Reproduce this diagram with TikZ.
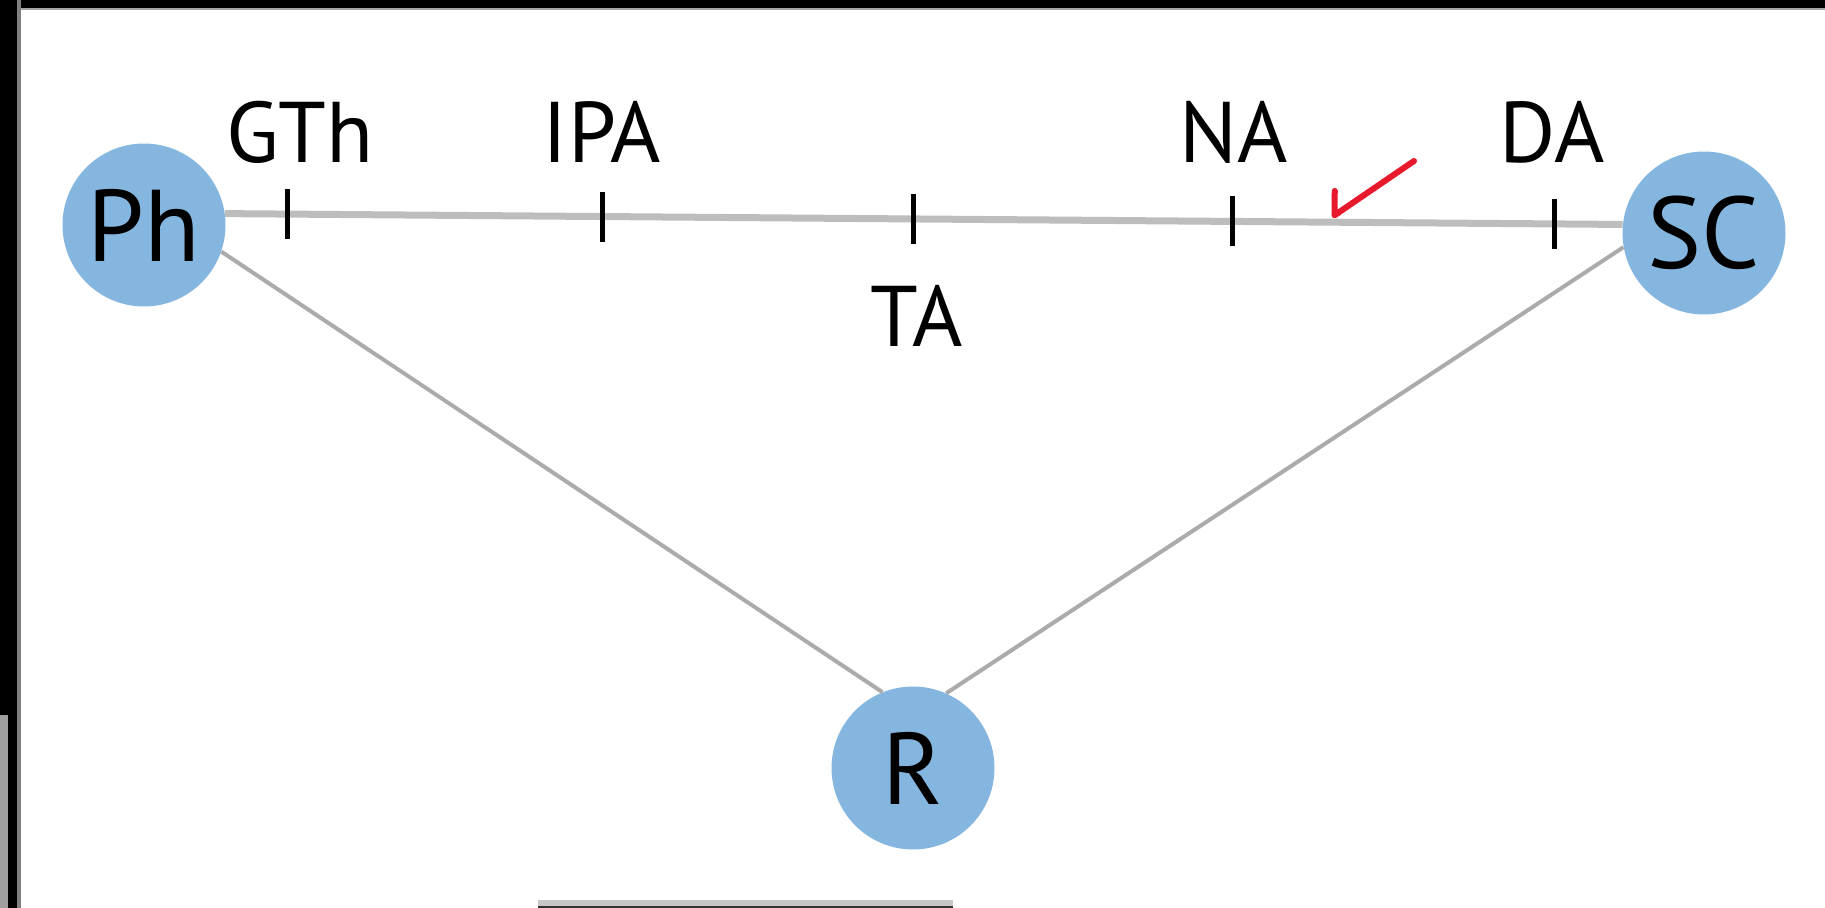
\documentclass[tikz,border=0pt]{standalone}
\usepackage{fontspec}
\setmainfont{PT Sans}
\usetikzlibrary{arrows.meta}
\definecolor{nodeblue}{HTML}{85B6E0}
\definecolor{edgegrey}{HTML}{BDBDBD}
\definecolor{diaggrey}{HTML}{ABABAB}
\definecolor{arrowred}{HTML}{E8192C}
\begin{document}
\begin{tikzpicture}[x=0.02cm,y=-0.02cm,
  vertex/.style={circle,fill=nodeblue,minimum size=3.26cm,inner sep=0pt,font=\fontsize{58}{62}\selectfont},
  tickmark/.style={fill=black,inner sep=0pt,minimum width=0.1cm,minimum height=1.0cm},
  lab/.style={font=\fontsize{49}{54}\selectfont,anchor=base,inner sep=0pt},
  mainedge/.style={draw=edgegrey,line width=0.14cm},
  sideedge/.style={draw=diaggrey,line width=0.08cm},
  pointer/.style={draw=arrowred,line width=0.12cm,line cap=round,-{Straight Barb[harpoon,swap,length=0.28cm,width=0.8cm,round]}}]
\useasboundingbox (0,0) rectangle (1825,908);
\fill[white] (0,0) rectangle (1825,908);
% frame
\fill[black] (0,0) rectangle (1825,8);
\fill[gray!70] (0,8) rectangle (1825,10);
\fill[black] (0,0) rectangle (17,908);
\fill[gray] (17,0) rectangle (21,908);
\fill[gray!75] (0,715) rectangle (8,908);
\fill[gray!45] (538,900) rectangle (953,906);
\fill[black!80] (538,906) rectangle (953,908);
% nodes
\node[vertex] (Ph) at (144,225) {Ph};
\node[vertex] (SC) at (1704,233) {SC};
\node[vertex] (R) at (913,768) {R};
% edges
\draw[sideedge] (Ph.-19) -- (R.112);
\draw[sideedge] (SC.190) -- (R.66);
\draw[mainedge] (Ph.8) -- (SC.174)
  node[tickmark,pos=.045] (t1) {}
  node[tickmark,pos=.27] (t2) {}
  node[tickmark,pos=.4925] (t3) {}
  node[tickmark,pos=.721] (t4) {}
  node[tickmark,pos=.951] (t5) {};
% labels
\node[lab] (lGTh) at (300,163) {GTh};
\node[lab] (lIPA) at (602,163) {IPA};
\node[lab] (lNA) at (1234,163) {NA};
\node[lab] (lDA) at (1552,163) {DA};
\node[lab] (lTA) at (917,347) {TA};
% red pointer
\coordinate (a1) at (1414,161);
\coordinate (a2) at (1332,217);
\draw[pointer] (a1) -- (a2);
\end{tikzpicture}
\end{document}
